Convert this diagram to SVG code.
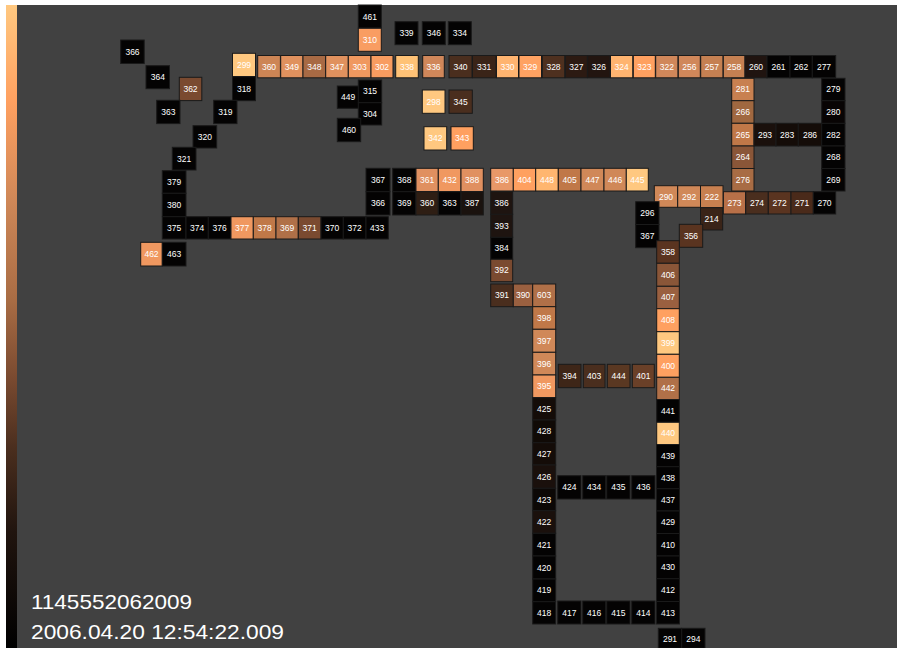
<svg xmlns="http://www.w3.org/2000/svg" width="904" height="648" viewBox="0 0 904 648">
<defs>
<linearGradient id="scale" x1="0" y1="0" x2="0" y2="1">
<stop offset="0" stop-color="#FFC880"/>
<stop offset="0.15" stop-color="#FFA060"/>
<stop offset="0.3" stop-color="#D08858"/>
<stop offset="0.46" stop-color="#A86C44"/>
<stop offset="0.58" stop-color="#7A4A30"/>
<stop offset="0.69" stop-color="#4A2E1E"/>
<stop offset="0.82" stop-color="#20140E"/>
<stop offset="1" stop-color="#000000"/>
</linearGradient>
</defs>
<style>
.cell rect{stroke:#1a1a1a;stroke-width:1}
.cell text{font-family:"Liberation Sans",Arial,sans-serif;font-size:8.5px;fill:#ffffff;text-anchor:middle}
.k{fill:#040303}
.info{font-family:"Liberation Sans",Arial,sans-serif;font-size:21px;fill:#ffffff}
</style>
<rect x="0" y="0" width="904" height="648" fill="#ffffff"/>
<rect x="6" y="5" width="891" height="643" fill="#414141"/>
<rect x="6" y="5" width="11" height="643" fill="url(#scale)"/>
<g id="nodes">
<g id="c461" class="cell"><rect class="k" x="358.3" y="5" width="23" height="23"/><text x="369.8" y="19.5">461</text></g>
<g id="c310" class="cell"><rect x="358.3" y="28.3" width="23" height="23" fill="#F99D62"/><text x="369.8" y="42.8">310</text></g>
<g id="c339" class="cell"><rect class="k" x="395" y="21.7" width="23" height="23"/><text x="406.5" y="36.2">339</text></g>
<g id="c346" class="cell"><rect class="k" x="422.3" y="21.7" width="23" height="23"/><text x="433.8" y="36.2">346</text></g>
<g id="c334" class="cell"><rect class="k" x="448.3" y="21.7" width="23" height="23"/><text x="459.8" y="36.2">334</text></g>
<g id="c366a" class="cell"><rect class="k" x="120.7" y="40" width="23.5" height="23.5"/><text x="132.5" y="54.8">366</text></g>
<g id="c364" class="cell"><rect class="k" x="146" y="65.7" width="23.5" height="23"/><text x="157.8" y="80.3">364</text></g>
<g id="c362" class="cell"><rect x="179.3" y="77.3" width="22.5" height="23.3" fill="#7A4A30"/><text x="190.5" y="92">362</text></g>
<g id="c363a" class="cell"><rect class="k" x="156.7" y="100.3" width="23.3" height="23.3"/><text x="168.3" y="115">363</text></g>
<g id="c299" class="cell"><rect x="232.5" y="53.3" width="23" height="23.3" fill="#FFC880"/><text x="244" y="68">299</text></g>
<g id="c318" class="cell"><rect class="k" x="232.5" y="76.7" width="23" height="24"/><text x="244" y="91.5">318</text></g>
<g id="c319" class="cell"><rect class="k" x="213.7" y="100.3" width="23.3" height="23.3"/><text x="225.3" y="115">319</text></g>
<g id="c320" class="cell"><rect class="k" x="193" y="125.7" width="23.7" height="22.3"/><text x="204.8" y="139.8">320</text></g>
<g id="c321" class="cell"><rect class="k" x="172.3" y="147.3" width="23.7" height="22.7"/><text x="184.1" y="161.6">321</text></g>
<g id="c360a" class="cell"><rect x="257.7" y="55.5" width="22.7" height="22.3" fill="#CD8555"/><text x="269" y="69.6">360</text></g>
<g id="c349" class="cell"><rect x="280.7" y="55.5" width="22.3" height="22.3" fill="#E0915E"/><text x="291.8" y="69.6">349</text></g>
<g id="c348" class="cell"><rect x="303" y="55.5" width="22.7" height="22.3" fill="#A86A44"/><text x="314.3" y="69.6">348</text></g>
<g id="c347" class="cell"><rect x="325.7" y="55.5" width="22.6" height="22.3" fill="#E0915E"/><text x="337" y="69.6">347</text></g>
<g id="c303" class="cell"><rect x="348.3" y="55.5" width="22.7" height="22.3" fill="#F0985F"/><text x="359.6" y="69.6">303</text></g>
<g id="c302" class="cell"><rect x="371" y="55.5" width="22" height="22.3" fill="#F89C60"/><text x="382" y="69.6">302</text></g>
<g id="c338" class="cell"><rect x="395.7" y="55.5" width="22.6" height="22.3" fill="#FFC276"/><text x="407" y="69.6">338</text></g>
<g id="c336" class="cell"><rect x="422.7" y="55.5" width="21.6" height="22.3" fill="#D0875A"/><text x="433.5" y="69.6">336</text></g>
<g id="c340" class="cell"><rect x="449" y="55.5" width="23" height="22.3" fill="#4A2E1E"/><text x="460.5" y="69.6">340</text></g>
<g id="c331" class="cell"><rect x="472.5" y="55.5" width="23.5" height="22.3" fill="#3A2418"/><text x="484.2" y="69.6">331</text></g>
<g id="c330" class="cell"><rect x="496.5" y="55.5" width="22" height="22.3" fill="#FFB470"/><text x="507.5" y="69.6">330</text></g>
<g id="c329" class="cell"><rect x="519" y="55.5" width="22.5" height="22.3" fill="#FFA262"/><text x="530.2" y="69.6">329</text></g>
<g id="c328" class="cell"><rect x="542.3" y="55.5" width="22.5" height="22.3" fill="#4E301F"/><text x="553.5" y="69.6">328</text></g>
<g id="c327" class="cell"><rect x="565.3" y="55.5" width="22" height="22.3" fill="#2C1A12"/><text x="576.3" y="69.6">327</text></g>
<g id="c326" class="cell"><rect x="587.7" y="55.5" width="22.3" height="22.3" fill="#221510"/><text x="598.8" y="69.6">326</text></g>
<g id="c324" class="cell"><rect x="610.5" y="55.5" width="22.3" height="22.3" fill="#FFB470"/><text x="621.6" y="69.6">324</text></g>
<g id="c323" class="cell"><rect x="633.3" y="55.5" width="22" height="22.3" fill="#FFA060"/><text x="644.3" y="69.6">323</text></g>
<g id="c322" class="cell"><rect x="655.7" y="55.5" width="22.3" height="22.3" fill="#D0875A"/><text x="666.8" y="69.6">322</text></g>
<g id="c256" class="cell"><rect x="678.3" y="55.5" width="22" height="22.3" fill="#D0875A"/><text x="689.3" y="69.6">256</text></g>
<g id="c257" class="cell"><rect x="700.7" y="55.5" width="22.3" height="22.3" fill="#C58052"/><text x="711.8" y="69.6">257</text></g>
<g id="c258" class="cell"><rect x="723.3" y="55.5" width="21.7" height="22.3" fill="#C58052"/><text x="734.2" y="69.6">258</text></g>
<g id="c260" class="cell"><rect x="745" y="55.5" width="22" height="22.3" fill="#201410"/><text x="756" y="69.6">260</text></g>
<g id="c261" class="cell"><rect class="k" x="767" y="55.5" width="23" height="22.3"/><text x="778.5" y="69.6">261</text></g>
<g id="c262" class="cell"><rect class="k" x="790" y="55.5" width="22.3" height="22.3"/><text x="801.1" y="69.6">262</text></g>
<g id="c277" class="cell"><rect class="k" x="812.3" y="55.5" width="23.4" height="22.3"/><text x="824" y="69.6">277</text></g>
<g id="c449" class="cell"><rect class="k" x="337.3" y="86" width="21.7" height="22.3"/><text x="348.1" y="100">449</text></g>
<g id="c315" class="cell"><rect class="k" x="358.3" y="80" width="23.4" height="22.7"/><text x="370" y="94">315</text></g>
<g id="c304" class="cell"><rect class="k" x="358.3" y="102.7" width="23.4" height="22.3"/><text x="370" y="116.7">304</text></g>
<g id="c460" class="cell"><rect class="k" x="337.3" y="118.3" width="23.4" height="23.4"/><text x="349" y="133">460</text></g>
<g id="c298" class="cell"><rect x="422.3" y="90" width="22.7" height="23.3" fill="#FFC880"/><text x="433.6" y="104.6">298</text></g>
<g id="c345" class="cell"><rect x="449" y="90" width="23.3" height="23.3" fill="#4A2E1E"/><text x="460.6" y="104.6">345</text></g>
<g id="c342" class="cell"><rect x="424" y="126.7" width="22.7" height="23.3" fill="#FFC880"/><text x="435.3" y="141.3">342</text></g>
<g id="c343" class="cell"><rect x="451" y="126.7" width="22.3" height="23.3" fill="#FFA060"/><text x="462.1" y="141.3">343</text></g>
<g id="c281" class="cell"><rect x="731.7" y="78.3" width="22.3" height="22.4" fill="#C88050"/><text x="742.8" y="92.4">281</text></g>
<g id="c266" class="cell"><rect x="731.7" y="100.7" width="22.3" height="22.6" fill="#A06840"/><text x="742.8" y="114.9">266</text></g>
<g id="c265" class="cell"><rect x="731.7" y="123.3" width="22.3" height="22.7" fill="#C07848"/><text x="742.8" y="137.6">265</text></g>
<g id="c264" class="cell"><rect x="731.7" y="146" width="22.3" height="22.5" fill="#8A5638"/><text x="742.8" y="160.2">264</text></g>
<g id="c276" class="cell"><rect x="731.7" y="168.5" width="22.3" height="22.5" fill="#A86C44"/><text x="742.8" y="182.7">276</text></g>
<g id="c293" class="cell"><rect x="754" y="123.3" width="22" height="22.7" fill="#1A100C"/><text x="765" y="137.6">293</text></g>
<g id="c283" class="cell"><rect x="776" y="123.3" width="22.3" height="22.7" fill="#140C08"/><text x="787.1" y="137.6">283</text></g>
<g id="c286" class="cell"><rect x="798.3" y="123.3" width="23.4" height="22.7" fill="#140C08"/><text x="810" y="137.6">286</text></g>
<g id="c282" class="cell"><rect class="k" x="821.7" y="123.3" width="23.3" height="22.7"/><text x="833.3" y="137.6">282</text></g>
<g id="c279" class="cell"><rect class="k" x="821.7" y="78.3" width="23.3" height="22.4"/><text x="833.3" y="92.4">279</text></g>
<g id="c280" class="cell"><rect x="821.7" y="100.7" width="23.3" height="22.6" fill="#080404"/><text x="833.3" y="114.9">280</text></g>
<g id="c268" class="cell"><rect class="k" x="821.7" y="146" width="23.3" height="22.5"/><text x="833.3" y="160.2">268</text></g>
<g id="c269" class="cell"><rect class="k" x="821.7" y="168.5" width="23.3" height="22.5"/><text x="833.3" y="182.7">269</text></g>
<g id="c273" class="cell"><rect x="723.3" y="191.7" width="22.4" height="22.3" fill="#B87048"/><text x="734.5" y="205.8">273</text></g>
<g id="c274" class="cell"><rect x="745.7" y="191.7" width="22.6" height="22.3" fill="#4A2E1E"/><text x="757" y="205.8">274</text></g>
<g id="c272" class="cell"><rect x="768.3" y="191.7" width="22.7" height="22.3" fill="#5A3420"/><text x="779.6" y="205.8">272</text></g>
<g id="c271" class="cell"><rect x="791" y="191.7" width="22.3" height="22.3" fill="#4A2A1A"/><text x="802.1" y="205.8">271</text></g>
<g id="c270" class="cell"><rect class="k" x="813.3" y="191.7" width="22.4" height="22.3"/><text x="824.5" y="205.8">270</text></g>
<g id="c290" class="cell"><rect x="654.3" y="185.7" width="23.4" height="21.6" fill="#D08858"/><text x="666" y="199.5">290</text></g>
<g id="c292" class="cell"><rect x="677.7" y="185.7" width="22.8" height="21.6" fill="#D08858"/><text x="689.1" y="199.5">292</text></g>
<g id="c222" class="cell"><rect x="700.5" y="185.7" width="22.5" height="22" fill="#C88050"/><text x="711.8" y="199.5">222</text></g>
<g id="c214" class="cell"><rect x="700.5" y="207.7" width="22.2" height="22.3" fill="#3A2418"/><text x="711.6" y="221.8">214</text></g>
<g id="c296" class="cell"><rect class="k" x="635.7" y="201.7" width="23.3" height="22.8"/><text x="647.3" y="216">296</text></g>
<g id="c367b" class="cell"><rect class="k" x="635.7" y="224.5" width="23.3" height="23.2"/><text x="647.3" y="239">367</text></g>
<g id="c356" class="cell"><rect x="679.3" y="224.3" width="23.4" height="23" fill="#5A3420"/><text x="691" y="238.7">356</text></g>
<g id="c358" class="cell"><rect x="656.7" y="240.7" width="22.6" height="22.6" fill="#5A3420"/><text x="668" y="254.9">358</text></g>
<g id="c406" class="cell"><rect x="656.7" y="263.3" width="22.6" height="23" fill="#8A5638"/><text x="668" y="277.7">406</text></g>
<g id="c407" class="cell"><rect x="656.7" y="286.3" width="22.6" height="22.4" fill="#9A6040"/><text x="668" y="300.4">407</text></g>
<g id="c408" class="cell"><rect x="656.7" y="308.7" width="22.6" height="23" fill="#FFA060"/><text x="668" y="323.1">408</text></g>
<g id="c399" class="cell"><rect x="656.7" y="331.7" width="22.6" height="22.6" fill="#FFC880"/><text x="668" y="345.9">399</text></g>
<g id="c400" class="cell"><rect x="656.7" y="354.3" width="22.6" height="23" fill="#FFA060"/><text x="668" y="368.7">400</text></g>
<g id="c442" class="cell"><rect x="656.7" y="377.3" width="22.6" height="22.2" fill="#B07048"/><text x="668" y="391.3">442</text></g>
<g id="c441" class="cell"><rect class="k" x="656.7" y="399.5" width="22.6" height="22.8"/><text x="668" y="413.8">441</text></g>
<g id="c440" class="cell"><rect x="656.7" y="422.3" width="22.6" height="22.2" fill="#FFC880"/><text x="668" y="436.3">440</text></g>
<g id="c439" class="cell"><rect class="k" x="656.5" y="444.5" width="23" height="22.2"/><text x="668" y="458.5">439</text></g>
<g id="c438" class="cell"><rect class="k" x="656.5" y="466.7" width="23" height="22"/><text x="668" y="480.6">438</text></g>
<g id="c437" class="cell"><rect class="k" x="656.5" y="488.7" width="23" height="22.3"/><text x="668" y="502.8">437</text></g>
<g id="c429" class="cell"><rect class="k" x="656.5" y="511" width="23" height="22.5"/><text x="668" y="525.2">429</text></g>
<g id="c410" class="cell"><rect class="k" x="656.5" y="533.5" width="23" height="22.5"/><text x="668" y="547.7">410</text></g>
<g id="c430" class="cell"><rect class="k" x="656.5" y="556" width="23" height="22.7"/><text x="668" y="570.3">430</text></g>
<g id="c412" class="cell"><rect class="k" x="656.5" y="578.7" width="23" height="22.8"/><text x="668" y="593">412</text></g>
<g id="c413" class="cell"><rect class="k" x="656.5" y="601.5" width="23" height="22.5"/><text x="668" y="615.7">413</text></g>
<g id="c291" class="cell"><rect class="k" x="658.3" y="628.3" width="23.4" height="20"/><text x="670" y="642">291</text></g>
<g id="c294" class="cell"><rect class="k" x="681.7" y="628.3" width="23.3" height="20"/><text x="693.3" y="642">294</text></g>
<g id="c367a" class="cell"><rect class="k" x="366" y="168.3" width="24" height="23.4"/><text x="378" y="183">367</text></g>
<g id="c366b" class="cell"><rect class="k" x="366" y="191.7" width="24" height="23.3"/><text x="378" y="206.3">366</text></g>
<g id="c368" class="cell"><rect class="k" x="392.7" y="168.3" width="23.3" height="23.4"/><text x="404.3" y="183">368</text></g>
<g id="c361" class="cell"><rect x="416" y="168.3" width="22.3" height="23.4" fill="#E09060"/><text x="427.1" y="183">361</text></g>
<g id="c432" class="cell"><rect x="438.3" y="168.3" width="22.7" height="23.4" fill="#F09860"/><text x="449.6" y="183">432</text></g>
<g id="c388" class="cell"><rect x="461" y="168.3" width="22.3" height="23.4" fill="#E09060"/><text x="472.1" y="183">388</text></g>
<g id="c369a" class="cell"><rect class="k" x="392.7" y="191.7" width="23.3" height="23.3"/><text x="404.3" y="206.3">369</text></g>
<g id="c360b" class="cell"><rect x="416" y="191.7" width="22.3" height="23.3" fill="#2E1E14"/><text x="427.1" y="206.3">360</text></g>
<g id="c363b" class="cell"><rect class="k" x="438.3" y="191.7" width="22.7" height="23.3"/><text x="449.6" y="206.3">363</text></g>
<g id="c387" class="cell"><rect x="461" y="191.7" width="22.3" height="23.3" fill="#1A120E"/><text x="472.1" y="206.3">387</text></g>
<g id="c386a" class="cell"><rect x="490.7" y="168.3" width="22.6" height="22.7" fill="#E89868"/><text x="502" y="182.6">386</text></g>
<g id="c404" class="cell"><rect x="513.3" y="168.3" width="22.4" height="22.7" fill="#FFA060"/><text x="524.5" y="182.6">404</text></g>
<g id="c448" class="cell"><rect x="535.7" y="168.3" width="22.6" height="22.7" fill="#FFB670"/><text x="547" y="182.6">448</text></g>
<g id="c405" class="cell"><rect x="558.3" y="168.3" width="22.7" height="22.7" fill="#C07848"/><text x="569.6" y="182.6">405</text></g>
<g id="c447" class="cell"><rect x="581" y="168.3" width="23" height="22.7" fill="#D08858"/><text x="592.5" y="182.6">447</text></g>
<g id="c446" class="cell"><rect x="604" y="168.3" width="22.3" height="22.7" fill="#D08858"/><text x="615.1" y="182.6">446</text></g>
<g id="c445" class="cell"><rect x="626.3" y="168.3" width="22" height="22.7" fill="#FFC880"/><text x="637.3" y="182.6">445</text></g>
<g id="c386b" class="cell"><rect x="490.7" y="191.7" width="22" height="22.6" fill="#1E1410"/><text x="501.7" y="205.9">386</text></g>
<g id="c393" class="cell"><rect x="490.7" y="214.3" width="22" height="23" fill="#1E1410"/><text x="501.7" y="228.7">393</text></g>
<g id="c384" class="cell"><rect class="k" x="490.7" y="237.3" width="22" height="22"/><text x="501.7" y="251.2">384</text></g>
<g id="c392" class="cell"><rect x="490.7" y="259.3" width="22" height="22.4" fill="#7A4A30"/><text x="501.7" y="273.4">392</text></g>
<g id="c391" class="cell"><rect x="490.7" y="284" width="22.6" height="22.7" fill="#4A2E1E"/><text x="502" y="298.3">391</text></g>
<g id="c390" class="cell"><rect x="513.3" y="284" width="19.4" height="22.7" fill="#9A6040"/><text x="523" y="298.3">390</text></g>
<g id="c603" class="cell"><rect x="532.7" y="284" width="23" height="22.7" fill="#B07048"/><text x="544.2" y="298.3">603</text></g>
<g id="c398" class="cell"><rect x="532.7" y="306.7" width="23" height="22.6" fill="#C07848"/><text x="544.2" y="320.9">398</text></g>
<g id="c397" class="cell"><rect x="532.7" y="329.3" width="23" height="23" fill="#D08858"/><text x="544.2" y="343.7">397</text></g>
<g id="c396" class="cell"><rect x="532.7" y="352.3" width="23" height="22.7" fill="#D08858"/><text x="544.2" y="366.6">396</text></g>
<g id="c395" class="cell"><rect x="532.7" y="375" width="23" height="22.7" fill="#F09860"/><text x="544.2" y="389.3">395</text></g>
<g id="c425" class="cell"><rect x="532.7" y="397.7" width="23" height="22.3" fill="#140C08"/><text x="544.2" y="411.8">425</text></g>
<g id="c428" class="cell"><rect x="532.7" y="420" width="23" height="22.7" fill="#100A06"/><text x="544.2" y="434.3">428</text></g>
<g id="c427" class="cell"><rect x="532.7" y="442.7" width="23" height="22.3" fill="#140C08"/><text x="544.2" y="456.8">427</text></g>
<g id="c426" class="cell"><rect x="532.7" y="465" width="23" height="23.3" fill="#1A100C"/><text x="544.2" y="479.6">426</text></g>
<g id="c423" class="cell"><rect x="532.7" y="488.3" width="23" height="22.4" fill="#0C0806"/><text x="544.2" y="502.5">423</text></g>
<g id="c422" class="cell"><rect x="532.7" y="510.7" width="23" height="22.6" fill="#1A100C"/><text x="544.2" y="525">422</text></g>
<g id="c421" class="cell"><rect class="k" x="532.7" y="533.3" width="23" height="22.7"/><text x="544.2" y="547.6">421</text></g>
<g id="c420" class="cell"><rect class="k" x="532.7" y="556" width="23" height="23"/><text x="544.2" y="570.5">420</text></g>
<g id="c419" class="cell"><rect class="k" x="532.7" y="579" width="23" height="22.7"/><text x="544.2" y="593.3">419</text></g>
<g id="c418" class="cell"><rect class="k" x="532.7" y="601.7" width="23" height="22.3"/><text x="544.2" y="615.8">418</text></g>
<g id="c394" class="cell"><rect x="558.3" y="364.3" width="22.7" height="23.4" fill="#3E2618"/><text x="569.6" y="379">394</text></g>
<g id="c403" class="cell"><rect x="583.3" y="364.3" width="21.7" height="23.4" fill="#4A2E1E"/><text x="594.2" y="379">403</text></g>
<g id="c444" class="cell"><rect x="607.3" y="364.3" width="22.7" height="23.4" fill="#5A3822"/><text x="618.6" y="379">444</text></g>
<g id="c401" class="cell"><rect x="632.3" y="364.3" width="22" height="23.4" fill="#6A4028"/><text x="643.3" y="379">401</text></g>
<g id="c424" class="cell"><rect class="k" x="557.7" y="475.7" width="23.3" height="23.3"/><text x="569.3" y="490.3">424</text></g>
<g id="c434" class="cell"><rect class="k" x="582.7" y="475.7" width="23" height="23.3"/><text x="594.2" y="490.3">434</text></g>
<g id="c435" class="cell"><rect class="k" x="606.7" y="475.7" width="23.3" height="23.3"/><text x="618.3" y="490.3">435</text></g>
<g id="c436" class="cell"><rect class="k" x="631.7" y="475.7" width="23.3" height="23.3"/><text x="643.3" y="490.3">436</text></g>
<g id="c417" class="cell"><rect class="k" x="557.7" y="601" width="23.3" height="23"/><text x="569.3" y="615.5">417</text></g>
<g id="c416" class="cell"><rect class="k" x="582.7" y="601" width="23" height="23"/><text x="594.2" y="615.5">416</text></g>
<g id="c415" class="cell"><rect class="k" x="606.7" y="601" width="23.3" height="23"/><text x="618.3" y="615.5">415</text></g>
<g id="c414" class="cell"><rect class="k" x="631.7" y="601" width="23.3" height="23"/><text x="643.3" y="615.5">414</text></g>
<g id="c379" class="cell"><rect class="k" x="162.3" y="170.7" width="23.7" height="22.6"/><text x="174.1" y="184.9">379</text></g>
<g id="c380" class="cell"><rect class="k" x="162.3" y="193.3" width="23.7" height="23.4"/><text x="174.1" y="208">380</text></g>
<g id="c375" class="cell"><rect class="k" x="162.3" y="216.7" width="23.7" height="22.3"/><text x="174.1" y="230.8">375</text></g>
<g id="c374" class="cell"><rect class="k" x="186" y="216.7" width="22.3" height="22.3"/><text x="197.1" y="230.8">374</text></g>
<g id="c376" class="cell"><rect class="k" x="208.3" y="216.7" width="22.7" height="22.3"/><text x="219.6" y="230.8">376</text></g>
<g id="c377" class="cell"><rect x="231" y="216.7" width="22.3" height="22.3" fill="#F09860"/><text x="242.1" y="230.8">377</text></g>
<g id="c378" class="cell"><rect x="253.3" y="216.7" width="22.7" height="22.3" fill="#C07848"/><text x="264.6" y="230.8">378</text></g>
<g id="c369b" class="cell"><rect x="276" y="216.7" width="22.3" height="22.3" fill="#B07048"/><text x="287.1" y="230.8">369</text></g>
<g id="c371" class="cell"><rect x="298.3" y="216.7" width="22.7" height="22.3" fill="#7A4A30"/><text x="309.6" y="230.8">371</text></g>
<g id="c370" class="cell"><rect class="k" x="321" y="216.7" width="22.3" height="22.3"/><text x="332.1" y="230.8">370</text></g>
<g id="c372" class="cell"><rect class="k" x="343.3" y="216.7" width="22.7" height="22.3"/><text x="354.6" y="230.8">372</text></g>
<g id="c433" class="cell"><rect class="k" x="366" y="216.7" width="22.3" height="22.3"/><text x="377.1" y="230.8">433</text></g>
<g id="c462" class="cell"><rect x="140.7" y="242.3" width="21.6" height="23.7" fill="#F09860"/><text x="151.5" y="257.1">462</text></g>
<g id="c463" class="cell"><rect class="k" x="162.3" y="242.3" width="23.7" height="23.7"/><text x="174.1" y="257.1">463</text></g>
</g>
<g id="connectors"></g>
<g id="labels">
<text class="info" x="31" y="609" textLength="161" lengthAdjust="spacingAndGlyphs">1145552062009</text>
<text class="info" x="31" y="639" textLength="253" lengthAdjust="spacingAndGlyphs">2006.04.20 12:54:22.009</text>
</g>
</svg>
